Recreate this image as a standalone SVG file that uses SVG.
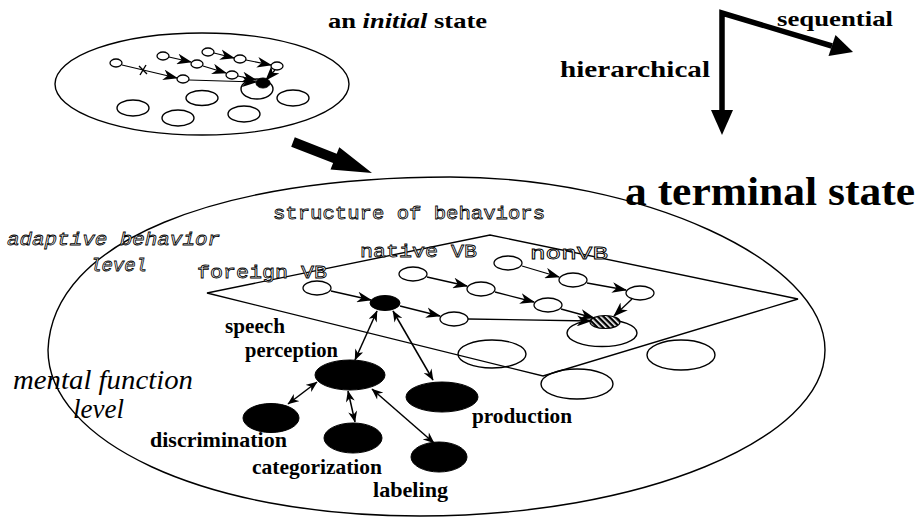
<svg xmlns="http://www.w3.org/2000/svg" width="919" height="521" viewBox="0 0 919 521">
<defs>
<style>
.ln{fill:none;stroke:#000;stroke-width:1.4}
.nd{fill:#fff;stroke:#000;stroke-width:1.3}
.bk{fill:#000;stroke:#000}
.ar{fill:none;stroke:#000;stroke-width:1.3;marker-end:url(#ah)}
.as{fill:none;stroke:#000;stroke-width:1.2;marker-end:url(#ah2)}
.ad{fill:none;stroke:#000;stroke-width:1.5;marker-end:url(#ad);marker-start:url(#ad)}
.b{font-family:"Liberation Serif",serif;font-weight:bold;fill:#000}
.i{font-family:"Liberation Serif",serif;font-style:italic;fill:#000}
.h{font-family:"Liberation Mono",monospace;fill:#fff;stroke:#000;stroke-width:0.8}
</style>
<marker id="ah" viewBox="0 0 14 10" refX="13" refY="5" markerWidth="15" markerHeight="11" markerUnits="userSpaceOnUse" orient="auto"><path d="M0,0 L14,5 L0,10 L4,5 z"/></marker>
<marker id="ah2" viewBox="0 0 14 10" refX="13" refY="5" markerWidth="15" markerHeight="11" markerUnits="userSpaceOnUse" orient="auto"><path d="M0,0 L14,5 L0,10 L4,5 z"/></marker>
<marker id="ad" viewBox="0 0 10 8" refX="9.5" refY="4" markerWidth="12" markerHeight="9" markerUnits="userSpaceOnUse" orient="auto-start-reverse"><path d="M0,0 L10,4 L0,8 L3,4 z"/></marker>
<pattern id="hatch" width="4" height="4" patternUnits="userSpaceOnUse" patternTransform="rotate(-45)"><rect width="4" height="4" fill="#000"/><rect width="1.6" height="4" fill="#fff"/></pattern>
</defs>

<!-- initial state -->
<g id="initial-state">
<ellipse class="ln" cx="202" cy="84" rx="147" ry="51"/>
<ellipse class="ln" cx="202" cy="98" rx="16" ry="7.5"/>
<ellipse class="ln" cx="133" cy="108" rx="16" ry="8"/>
<ellipse class="ln" cx="178" cy="118" rx="16" ry="8"/>
<ellipse class="ln" cx="244" cy="114" rx="16" ry="8"/>
<ellipse class="ln" cx="293" cy="98" rx="16" ry="8"/>
<ellipse class="ln" cx="257" cy="89" rx="16" ry="10"/>
<g class="as">
<path d="M122,65 L177,78"/>
<path d="M189,80 L256,82"/>
<path d="M169,57 L191,62"/>
<path d="M203,66 L226,73"/>
<path d="M238,76 L256,80"/>
<path d="M214,53 L234,58"/>
<path d="M246,60 L271,65"/>
<path d="M275,70 L266,80"/>
</g>
<path class="ln" d="M139,66 L147,74 M146,65 L140,75"/>
<ellipse class="nd" cx="116" cy="63" rx="6" ry="4"/>
<ellipse class="nd" cx="183" cy="79" rx="6" ry="4"/>
<ellipse class="nd" cx="163" cy="56" rx="6" ry="4"/>
<ellipse class="nd" cx="197" cy="64" rx="6" ry="4"/>
<ellipse class="nd" cx="232" cy="75" rx="6" ry="4"/>
<ellipse class="nd" cx="208" cy="52" rx="6" ry="4"/>
<ellipse class="nd" cx="240" cy="59" rx="6" ry="4"/>
<ellipse class="nd" cx="277" cy="66" rx="6" ry="4"/>
<ellipse class="bk" cx="263" cy="83" rx="7" ry="5"/>
<text class="b" x="328" y="28" font-size="20" textLength="159" lengthAdjust="spacingAndGlyphs">an <tspan font-style="italic">initial</tspan> state</text>
</g>

<!-- transition arrow -->
<g id="transition-arrow">
<polygon points="294.8,137.3 336.7,153.7 339.3,147.2 372,173 330.5,169.6 333.1,163.1 291.2,146.7" fill="#000"/>
</g>

<!-- axes -->
<g id="axes">
<path d="M722,115 L722,13 L832,46" fill="none" stroke="#000" stroke-width="5.5" stroke-linejoin="miter"/>
<polygon points="711,110 733,110 722,135" fill="#000"/>
<polygon points="828.5,56 835.5,35 853,52" fill="#000"/>
<text class="b" x="777" y="26" font-size="22" textLength="116" lengthAdjust="spacingAndGlyphs">sequential</text>
<text class="b" x="560" y="77" font-size="24" textLength="150" lengthAdjust="spacingAndGlyphs">hierarchical</text>
</g>

<!-- terminal state -->
<g id="terminal-state">
<path class="ln" d="M48,350 C52,240 220,177 450,177 C640,177 825,260 825,350 C825,440 640,516 420,516 C200,516 48,440 48,350 Z"/>
<text class="b" x="625" y="205" font-size="40" textLength="290" lengthAdjust="spacingAndGlyphs">a terminal state</text>
<text class="h" x="273" y="219" font-size="19" textLength="272" lengthAdjust="spacingAndGlyphs">structure of behaviors</text>
<text class="h" x="7" y="245" font-size="19" font-style="italic" textLength="213" lengthAdjust="spacingAndGlyphs">adaptive behavior</text>
<text class="h" x="90" y="271" font-size="19" font-style="italic" textLength="57" lengthAdjust="spacingAndGlyphs">level</text>
<text class="i" x="13" y="389" font-size="27" textLength="180" lengthAdjust="spacingAndGlyphs">mental function</text>
<text class="i" x="73" y="418" font-size="27" textLength="51" lengthAdjust="spacingAndGlyphs">level</text>
</g>

<!-- structure plane -->
<g id="plane">
<path class="ln" d="M207,293 L490,235 L798,299 L543,376 Z"/>
<ellipse class="ln" cx="492" cy="354" rx="34" ry="14"/>
<ellipse class="ln" cx="577" cy="384" rx="36" ry="15"/>
<ellipse class="ln" cx="681" cy="355" rx="34" ry="15"/>
<ellipse class="ln" cx="602" cy="333" rx="35" ry="13.5"/>
<text class="h" x="360" y="257" font-size="19" textLength="117" lengthAdjust="spacingAndGlyphs">native VB</text>
<text class="h" x="197" y="278" font-size="19" textLength="130" lengthAdjust="spacingAndGlyphs">foreign VB</text>
<text class="h" x="530" y="259" font-size="19" textLength="78" lengthAdjust="spacingAndGlyphs">nonVB</text>
</g>

<!-- connectors -->
<g id="connectors">
<path class="ar" d="M331,291 L371,300"/>
<path class="ar" d="M400,306 L440,316"/>
<path class="ar" d="M468,319 L591,321"/>
<path class="ar" d="M427,277 L467,286"/>
<path class="ar" d="M495,292 L534,302"/>
<path class="ar" d="M561,309 L594,318"/>
<path class="ar" d="M522,266 L559,277"/>
<path class="ar" d="M587,283 L626,290"/>
<path class="ar" d="M632,299 L614,316"/>
<path class="ad" d="M377,311 L355,360"/>
<path class="ad" d="M393,311 L433,380"/>
<path class="ad" d="M317,382 L288,404"/>
<path class="ad" d="M348,391 L355,422"/>
<path class="ad" d="M372,389 L434,443"/>
</g>

<!-- behavior nodes -->
<g id="n-foreign"><ellipse class="nd" cx="317" cy="288" rx="14" ry="7"/></g>
<g id="n-black"><ellipse class="bk" cx="385" cy="303" rx="15" ry="7.5"/></g>
<g id="n-mid"><ellipse class="nd" cx="454" cy="319" rx="14" ry="7"/></g>
<g id="n-native1"><ellipse class="nd" cx="413" cy="274" rx="14" ry="7"/></g>
<g id="n-native2"><ellipse class="nd" cx="481" cy="289" rx="14" ry="7"/></g>
<g id="n-native3"><ellipse class="nd" cx="548" cy="305" rx="14" ry="7"/></g>
<g id="n-non1"><ellipse class="nd" cx="508" cy="263" rx="14" ry="7"/></g>
<g id="n-non2"><ellipse class="nd" cx="573" cy="280" rx="14" ry="7"/></g>
<g id="n-non3"><ellipse class="nd" cx="640" cy="293" rx="14" ry="7"/></g>
<g id="n-hatched"><ellipse cx="605" cy="322" rx="15" ry="6.5" fill="url(#hatch)" stroke="#000" stroke-width="1.2"/></g>

<!-- mental function nodes -->
<g id="speech-perception">
<ellipse class="bk" cx="350" cy="375" rx="35" ry="15"/>
<text class="b" x="225" y="333" font-size="20" textLength="60" lengthAdjust="spacingAndGlyphs">speech</text>
<text class="b" x="245" y="357" font-size="20" textLength="93" lengthAdjust="spacingAndGlyphs">perception</text>
</g>
<g id="production">
<ellipse class="bk" cx="442" cy="397" rx="36" ry="15"/>
<text class="b" x="472" y="423" font-size="21" textLength="100" lengthAdjust="spacingAndGlyphs">production</text>
</g>
<g id="discrimination">
<ellipse class="bk" cx="271" cy="418" rx="28" ry="14.5"/>
<text class="b" x="150" y="447" font-size="21" textLength="137" lengthAdjust="spacingAndGlyphs">discrimination</text>
</g>
<g id="categorization">
<ellipse class="bk" cx="353" cy="438" rx="29" ry="15"/>
<text class="b" x="252" y="474" font-size="21" textLength="130" lengthAdjust="spacingAndGlyphs">categorization</text>
</g>
<g id="labeling">
<ellipse class="bk" cx="439" cy="457" rx="28" ry="15"/>
<text class="b" x="373" y="497" font-size="21" textLength="75" lengthAdjust="spacingAndGlyphs">labeling</text>
</g>
</svg>
